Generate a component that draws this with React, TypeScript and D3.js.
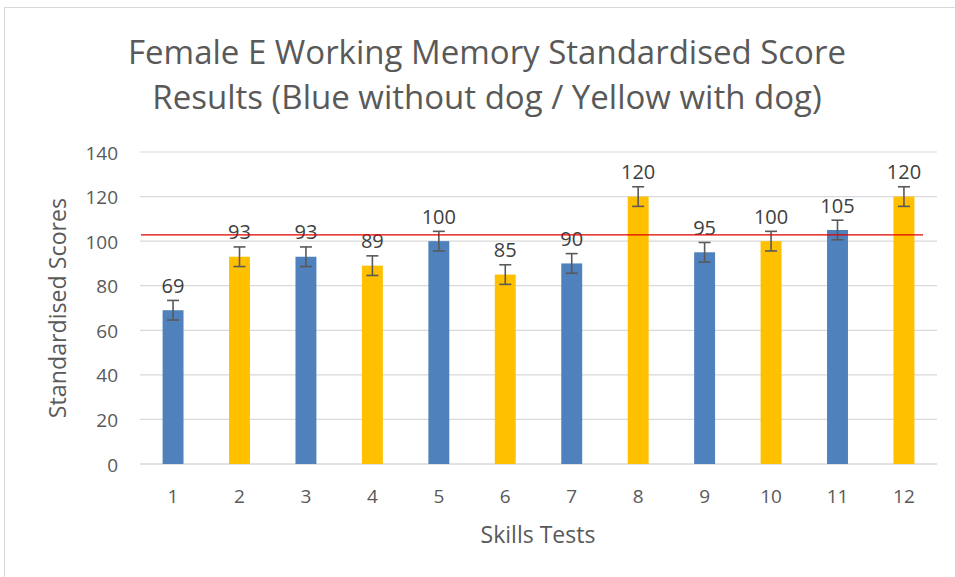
import React from "react";
import * as d3 from "d3";

const categories = ["1", "2", "3", "4", "5", "6", "7", "8", "9", "10", "11", "12"];
const scores = [69, 93, 93, 89, 100, 85, 90, 120, 95, 100, 105, 120];
const withDog = [false, true, false, true, false, true, false, true, false, true, false, true];
const errorAmount = 4.4;
const referenceValue = 102.8;
const yTicks = [0, 20, 40, 60, 80, 100, 120, 140];
const titleLines = ["Female E Working Memory Standardised Score", "Results (Blue without dog / Yellow with dog)"];

const W = 955, H = 577;
const plot = { left: 140, right: 937, top: 152, bottom: 464 };
const FONT = "'Open Sans', 'Noto Sans', sans-serif";

export default function App() {
  const x = d3.scaleBand<string>().domain(categories).range([plot.left, plot.right]).paddingInner(0.685).paddingOuter(0.34);
  const y = d3.scaleLinear().domain([0, 140]).range([plot.bottom, plot.top]);
  const bw = x.bandwidth();
  return (
    <svg width={W} height={H} style={{ position: "absolute", left: 0, top: 0 }}>
      <rect x={0} y={0} width={W} height={H} fill="#fff" />
      <rect x={4.5} y={7.5} width={W + 10} height={H + 10} fill="none" stroke="#d9d9d9" strokeWidth={1} />
      {titleLines.map((t, i) => (
        <text key={i} x={487} y={64 + i * 45} textAnchor="middle" fontSize={33} fill="#595959" fontFamily={FONT}>{t}</text>
      ))}
      {yTicks.map((t) => (
        <g key={t}>
          <line x1={plot.left} x2={plot.right} y1={y(t)} y2={y(t)} stroke="#d9d9d9" strokeWidth={t === 0 ? 1.5 : 1.2} />
          <text x={118} y={y(t) + 7.5} textAnchor="end" fontSize={19} fill="#595959" fontFamily={FONT}>{t}</text>
        </g>
      ))}
      {categories.map((c, i) => {
        const cx = (x(c) as number) + bw / 2;
        const v = scores[i];
        return (
          <g key={c}>
            <rect x={x(c)} y={y(v)} width={bw} height={y(0) - y(v)} fill={withDog[i] ? "#ffc000" : "#4f81bd"} />
            <line x1={cx} x2={cx} y1={y(v + errorAmount)} y2={y(v - errorAmount)} stroke="#595959" strokeWidth={1.6} />
            <line x1={cx - 6} x2={cx + 6} y1={y(v + errorAmount)} y2={y(v + errorAmount)} stroke="#595959" strokeWidth={1.6} />
            <line x1={cx - 6} x2={cx + 6} y1={y(v - errorAmount)} y2={y(v - errorAmount)} stroke="#595959" strokeWidth={1.6} />
            <text x={cx} y={y(v + errorAmount) - 7.5} textAnchor="middle" fontSize={20} fill="#404040" fontFamily={FONT}>{v}</text>
            <text x={cx} y={503} textAnchor="middle" fontSize={19} fill="#595959" fontFamily={FONT}>{c}</text>
          </g>
        );
      })}
      <line x1={plot.left + 1} x2={plot.right - 14} y1={y(referenceValue)} y2={y(referenceValue)} stroke="#e00000" strokeWidth={1.3} />
      <text x={538} y={543} textAnchor="middle" fontSize={23} fill="#595959" fontFamily={FONT}>Skills Tests</text>
      <text transform={`translate(66,308) rotate(-90)`} textAnchor="middle" fontSize={23.2} fill="#595959" fontFamily={FONT}>Standardised Scores</text>
    </svg>
  );
}
